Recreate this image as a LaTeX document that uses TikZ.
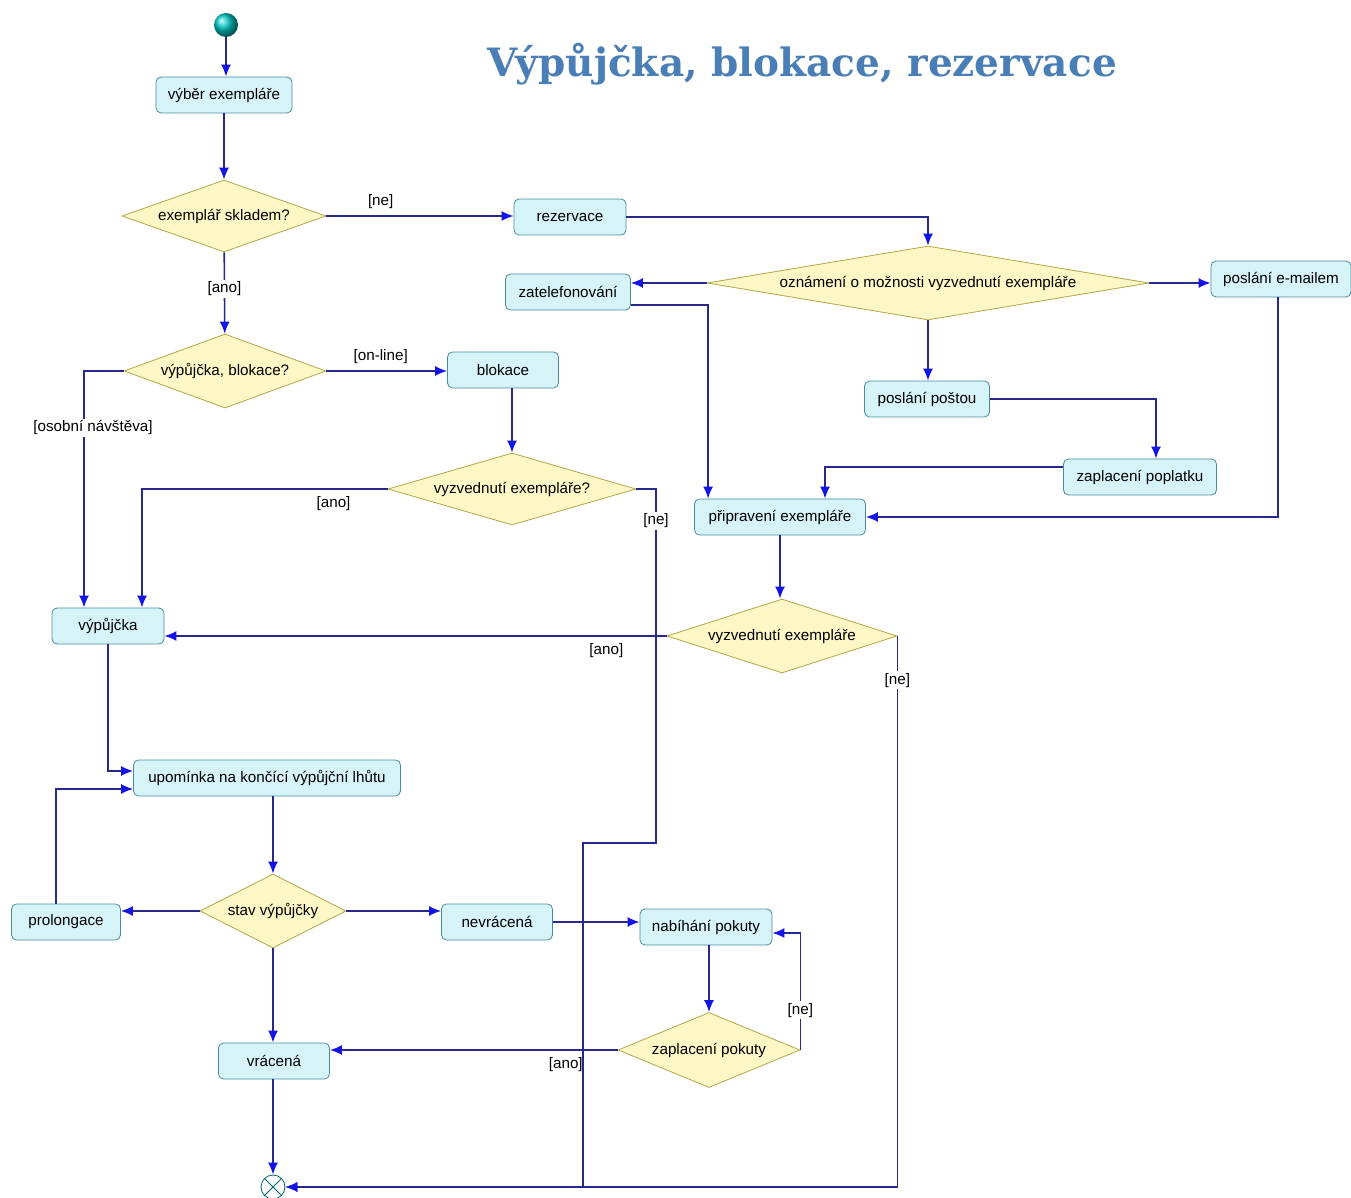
\documentclass[tikz,border=0pt]{standalone}
\usepackage{fontspec}
\setmainfont{Liberation Sans}
\newfontfamily\titlefont{DejaVu Serif}
\usetikzlibrary{shapes.geometric,arrows.meta}
\definecolor{linecol}{RGB}{40,40,140}
\definecolor{tipcol}{RGB}{20,20,230}
\definecolor{boxfill}{RGB}{214,244,248}
\definecolor{boxdraw}{RGB}{70,140,160}
\definecolor{decfill}{RGB}{252,247,196}
\definecolor{decdraw}{RGB}{180,165,70}
\definecolor{titlecol}{RGB}{74,126,182}
\begin{document}
\begin{tikzpicture}[x=0.5pt,y=-0.5pt,
    font=\fontsize{7.6}{9}\selectfont,
    box/.style={rectangle, rounded corners=2.5pt, draw=boxdraw, fill=boxfill, minimum height=18pt, text centered},
    decision/.style={diamond, draw=decdraw, fill=decfill, aspect=3, inner sep=1pt},
    arrow/.style={-{Latex[length=6pt,width=5pt,color=tipcol]}, draw=linecol, line width=0.8pt},
    lbl/.style={fill=white, inner sep=1pt}
  ]
  \useasboundingbox (0,0) rectangle (1351,1198);

  \node[font=\titlefont\bfseries\fontsize{19.5}{23}\selectfont, text=titlecol] (title) at (802,64) {Výpůjčka, blokace, rezervace};

  \node[circle, minimum size=12pt, inner sep=0pt, shading=ball, ball color=cyan!55!teal] (start) at (226,25) {};
  \node[box, minimum width=68pt] (vyber) at (224,95) {výběr exempláře};
  \node[decision, minimum width=102pt, minimum height=36pt] (sklad) at (224,216) {exemplář skladem?};
  \node[box, minimum width=56pt] (rezervace) at (570,217) {rezervace};
  \node[decision, aspect=6.5, minimum width=221pt, minimum height=37pt] (oznameni) at (928,283) {oznámení o možnosti vyzvednutí exempláře};
  \node[box, minimum width=62.5pt] (telefon) at (568,292) {zatelefonování};
  \node[box, minimum width=70pt] (email) at (1281,279) {poslání e-mailem};
  \node[decision, minimum width=101pt, minimum height=37pt] (volba) at (225,371) {výpůjčka, blokace?};
  \node[box, minimum width=55.5pt] (blokace) at (503,370) {blokace};
  \node[decision, minimum width=124pt, minimum height=36pt] (vyzvA) at (512,489) {vyzvednutí exempláře?};
  \node[box, minimum width=62.5pt] (posta) at (927,399) {poslání poštou};
  \node[box, minimum width=76.5pt] (poplatek) at (1140,477) {zaplacení poplatku};
  \node[box, minimum width=85.5pt] (pripraveni) at (780,517) {připravení exempláře};
  \node[decision, minimum width=115pt, minimum height=37pt] (vyzvB) at (782,636) {vyzvednutí exempláře};
  \node[box, minimum width=56pt] (vypujcka) at (108,626) {výpůjčka};
  \node[box, minimum width=133.5pt] (upominka) at (267,778) {upomínka na končící výpůjční lhůtu};
  \node[decision, aspect=2, minimum width=73pt, minimum height=37pt] (stav) at (273,911) {stav výpůjčky};
  \node[box, minimum width=54.5pt] (prolongace) at (66,922) {prolongace};
  \node[box, minimum width=55.5pt] (nevracena) at (497,922) {nevrácená};
  \node[box, minimum width=66pt] (nabihani) at (706,927) {nabíhání pokuty};
  \node[decision, minimum width=91pt, minimum height=37.5pt] (pokuta) at (709,1050) {zaplacení pokuty};
  \node[box, minimum width=55.5pt] (vracena) at (274,1061) {vrácená};
  \node[circle, draw=teal!80!black, fill=white, minimum size=12pt, inner sep=0pt] (konec) at (273,1187) {};
  \draw[teal!80!black] (konec.north west) -- (konec.south east) (konec.north east) -- (konec.south west);

  \coordinate (ohybA) at (656,843);
  \coordinate (ohybB) at (583,843);

  \draw[arrow] (start) -- (start |- vyber.north);
  \draw[arrow] (vyber) -- (sklad);
  \draw[arrow] (sklad.east) -- node[above, pos=0.29] {[ne]} (sklad.east -| rezervace.west);
  \draw[arrow] (rezervace) -| (oznameni);
  \draw[arrow] (oznameni.west) -- (oznameni.west -| telefon.east);
  \draw[arrow] (oznameni.east) -- (oznameni.east -| email.west);
  \draw[arrow] (oznameni.south) -- (oznameni.south |- posta.north);
  \draw[arrow] (sklad) -- node[lbl, pos=0.45] {[ano]} (volba);
  \draw[arrow] (volba.east) -- node[above, pos=0.45] {[on-line]} (volba.east -| blokace.west);
  \draw[arrow] (volba.west) -| node[lbl, pos=0.62, xshift=4.5pt] {[osobní návštěva]} ([xshift=-12pt]vypujcka.north);
  \draw[arrow] (vyzvA.north |- blokace.south) -- (vyzvA.north);
  \draw[arrow] (vyzvA.west) -| node[below, pos=0.11] {[ano]} ([xshift=17pt]vypujcka.north);
  \draw[arrow] (vyzvA.east) -| node[lbl, pos=0.545] {[ne]} (ohybA) -- (ohybB) |- (konec);
  \draw[arrow] ([yshift=-6.5pt]telefon.east) -| ([xshift=7pt]pripraveni.north west);
  \draw[arrow] (posta.east) -| ([xshift=8pt]poplatek.north);
  \draw[arrow] ([yshift=5pt]poplatek.west) -| ([xshift=22.5pt]pripraveni.north);
  \draw[arrow] ([xshift=-1.5pt]email.south) |- (pripraveni.east);
  \draw[arrow] (pripraveni.south) -- (pripraveni.south |- vyzvB.north);
  \draw[arrow] (vyzvB.west) -- node[below, pos=0.12] {[ano]} (vyzvB.west -| vypujcka.east);
  \draw[arrow] (vyzvB.east) |- node[lbl, pos=0.04] {[ne]} (konec);
  \draw[arrow] (vypujcka.south) |- ([yshift=3.5pt]upominka.west);
  \draw[arrow] ([xshift=-5pt]prolongace.north) |- ([yshift=-5.5pt]upominka.west);
  \draw[arrow] (upominka.south -| stav.north) -- (stav.north);
  \draw[arrow] (stav.west) -- (stav.west -| prolongace.east);
  \draw[arrow] (stav.east) -- (stav.east -| nevracena.west);
  \draw[arrow] (stav.south) -- (stav.south |- vracena.north);
  \draw[arrow] (nevracena.east) -- (nevracena.east -| nabihani.west);
  \draw[arrow] (nabihani.south -| pokuta.north) -- (pokuta.north);
  \draw[arrow] (pokuta.east) |- node[lbl, pos=0.17] {[ne]} ([yshift=-3pt]nabihani.east);
  \draw[arrow] (pokuta.west) -- node[below, pos=0.18] {[ano]} (pokuta.west -| vracena.east);
  \draw[arrow] (vracena.south -| konec.north) -- (konec.north);
\end{tikzpicture}
\end{document}
